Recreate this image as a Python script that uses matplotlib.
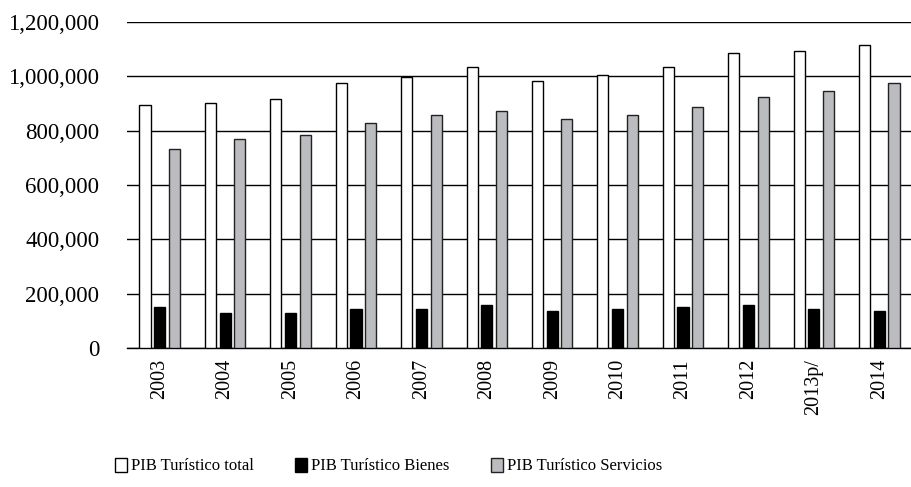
import numpy as np
import matplotlib
matplotlib.use("Agg")
import matplotlib.pyplot as plt
from matplotlib.ticker import FuncFormatter

years = ["2003", "2004", "2005", "2006", "2007", "2008", "2009", "2010",
         "2011", "2012", "2013p/", "2014"]
pib_total = [895000, 902000, 918000, 976000, 998000, 1034000, 984000, 1004000,
             1034000, 1087000, 1094000, 1117000]
pib_bienes = [151000, 129000, 129000, 143000, 143000, 158000, 135000, 143000,
              150000, 158000, 143000, 135000]
pib_servicios = [733000, 771000, 785000, 828000, 858000, 873000, 844000, 858000,
                 888000, 925000, 947000, 976000]

plt.rcParams['font.family'] = ['Liberation Serif', 'DejaVu Serif']

fig = plt.figure(figsize=(9.12, 4.87), dpi=100)
ax = fig.add_axes([127 / 912, 1 - 348 / 487, 785 / 912, 326 / 487])

x = np.arange(len(years))
w = 0.17
off = 0.225
ax.bar(x - off, pib_total, w, color='white', edgecolor='black', linewidth=1,
       label='PIB Turístico total', zorder=3)
ax.bar(x, pib_bienes, w, color='black', edgecolor='black', linewidth=1,
       label='PIB Turístico Bienes', zorder=3)
ax.bar(x + off, pib_servicios, w, color='#bbbcc0', edgecolor='#222222', linewidth=1,
       label='PIB Turístico Servicios', zorder=3)

ax.set_ylim(0, 1200000)
ax.set_xlim(-0.5, len(years) - 0.5)
ax.set_yticks(np.arange(0, 1200001, 200000))
ax.yaxis.set_major_formatter(FuncFormatter(lambda v, p: f"{int(v):,}"))
ax.yaxis.grid(True, color='black', linewidth=1)
ax.set_axisbelow(True)
for s in ['top', 'right', 'left']:
    ax.spines[s].set_visible(False)
ax.spines['bottom'].set_linewidth(1)
ax.tick_params(axis='y', length=0, labelsize=16.5, pad=20)
ax.tick_params(axis='x', length=0, labelsize=14.5, pad=8)
ax.set_xticks(x)
ax.set_xticklabels(years, rotation=90)

fig.legend(loc='center left', bbox_to_anchor=(100 / 912, 1 - 466 / 487), ncol=3,
           frameon=False, fontsize=12, handlelength=0.7, handleheight=0.9,
           handletextpad=0.25, columnspacing=2.5)

fig.savefig('out.png', dpi=100)
